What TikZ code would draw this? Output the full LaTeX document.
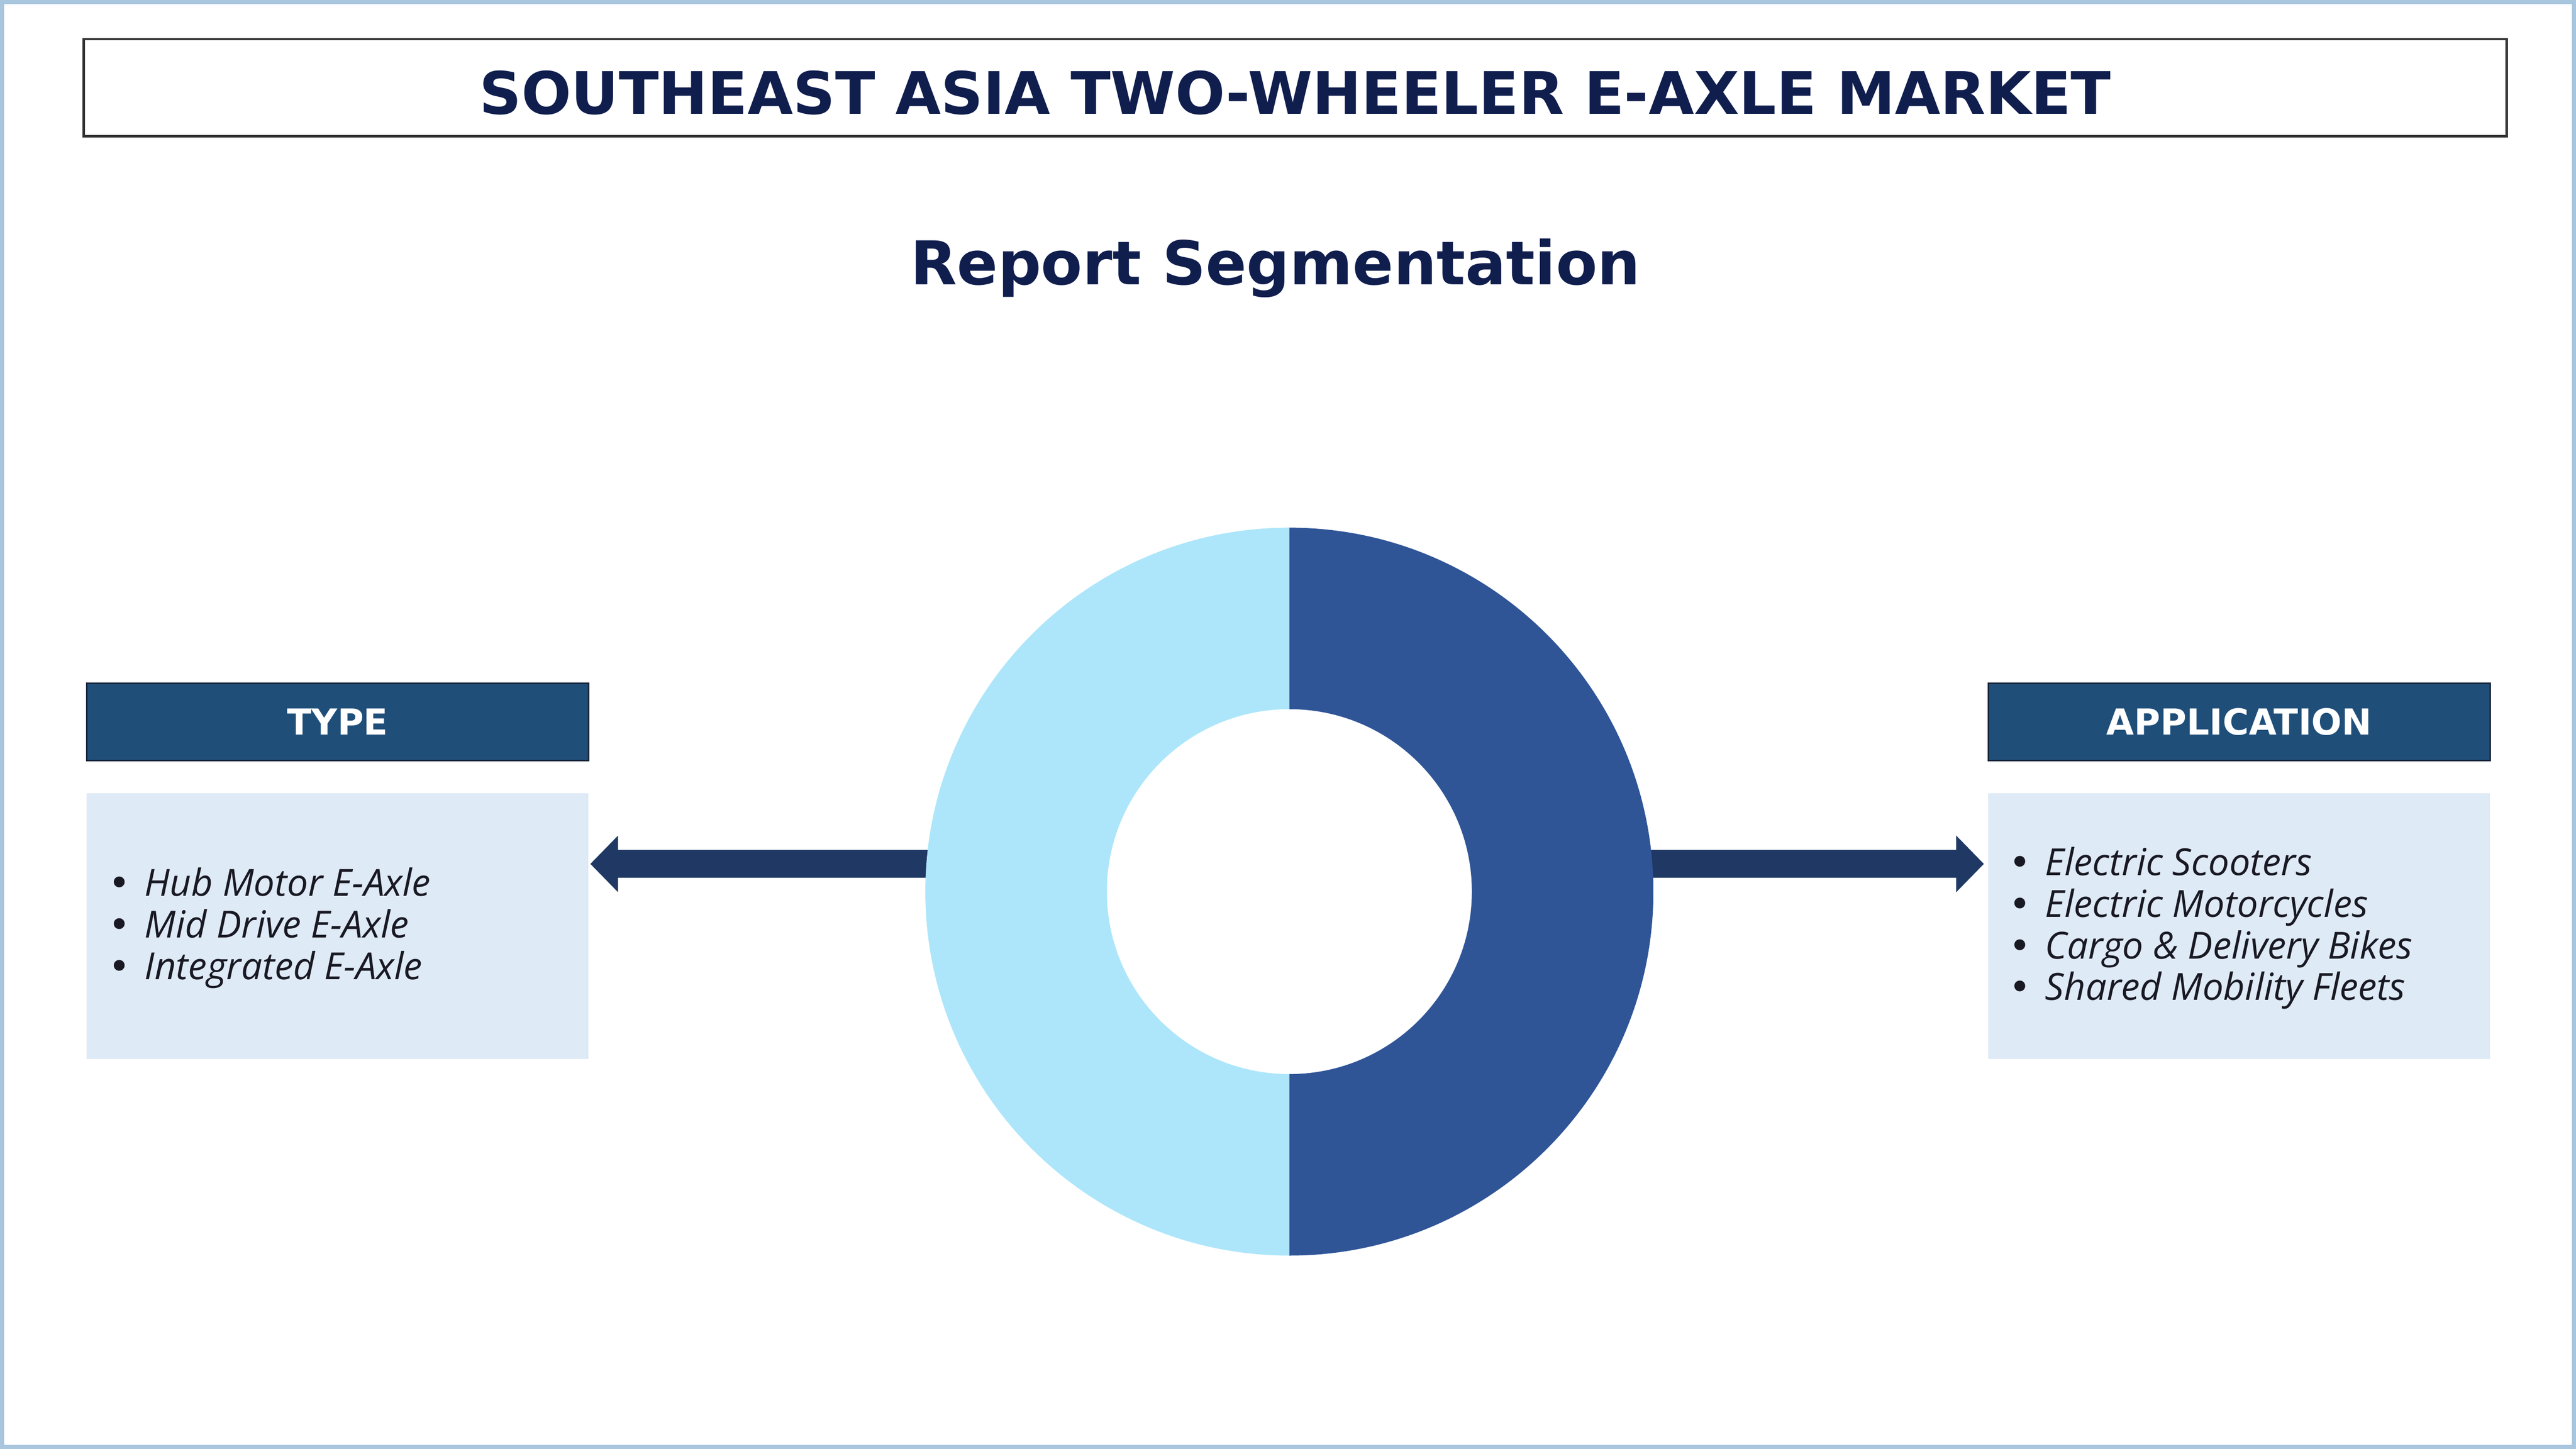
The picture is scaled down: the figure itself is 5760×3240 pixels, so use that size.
\documentclass[tikz,border=0pt]{standalone}
\usepackage{fontspec}
\setmainfont{Open Sans}
\newfontfamily\headfont{DejaVu Sans}
\usetikzlibrary{arrows.meta,positioning}
\definecolor{navy}{RGB}{16,30,78}
\definecolor{hdrblue}{RGB}{31,78,121}
\definecolor{hdredge}{RGB}{28,40,60}
\definecolor{paleblue}{RGB}{222,234,246}
\definecolor{skyblue}{RGB}{173,230,250}
\definecolor{ringblue}{RGB}{47,85,151}
\definecolor{arrowblue}{RGB}{31,56,100}
\definecolor{frameblue}{RGB}{168,198,222}
\definecolor{itemgray}{RGB}{25,25,35}
\tikzset{
headbox/.style={draw=hdredge, line width=0.3pt, fill=hdrblue, text=white,
  minimum width=112.2pt, minimum height=17.3pt, inner sep=0, outer sep=0,
  font=\headfont\bfseries\fontsize{8pt}{9pt}\selectfont},
bodybox/.style={fill=paleblue, minimum width=112.2pt, minimum height=59.5pt,
  inner sep=0, outer sep=0},
item/.style={anchor=base west, inner sep=0, text=itemgray,
  font=\fontsize{8.35pt}{9.3pt}\selectfont},
bigarrow/.style={arrowblue, line width=6.3pt,
  -{Triangle[length=6.2pt,width=12.3pt]}}
}
\newcommand{\itemdot}{{\headfont\textbullet}\hspace{3.2pt}}
\begin{document}
\begin{tikzpicture}[x=0.1pt,y=-0.1pt]
\useasboundingbox (0,0) rectangle (5760,3240);
\fill[white] (0,0) rectangle (5760,3240);
\draw[frameblue, line width=0.9pt] (4.5,4.5) rectangle (5755.5,3235.5);
\node[draw=black!80, line width=0.5pt, minimum width=541.8pt, minimum height=21.7pt,
  inner sep=0, text=navy, text height=11.8pt, text depth=0pt,
  font=\headfont\bfseries\fontsize{13.1pt}{15pt}\selectfont]
  (title) at (2896,196) {SOUTHEAST ASIA TWO-WHEELER E-AXLE MARKET};
\node[anchor=base, text=navy, font=\headfont\bfseries\fontsize{13.5pt}{16pt}\selectfont]
  (subtitle) at (2852,636) {Report Segmentation};
\node[headbox] (typehead) at (755,1614.5) {TYPE};
\node[bodybox, below=7.3pt of typehead] (typebody) {};
\node[headbox] (apphead) at (5007,1614.5) {APPLICATION};
\node[bodybox, below=7.3pt of apphead] (appbody) {};
\foreach \t [count=\i] in {Hub Motor E-Axle, Mid Drive E-Axle, Integrated E-Axle}
  \node[item] (type\i) at (240,{2004+93*(\i-1)}) {\itemdot\textit{\t}};
\foreach \t [count=\i] in {Electric Scooters, Electric Motorcycles,
  Cargo \& Delivery Bikes, Shared Mobility Fleets}
  \node[item] (app\i) at (4490,{1958+93*(\i-1)}) {\itemdot\textit{\t}};
\node[circle, minimum size=162.8pt, inner sep=0, outer sep=0] (ring) at (2883,1994) {};
\coordinate (typetip) at (1320,1932);
\coordinate (apptip) at (4436,1932);
\draw[bigarrow] (ring.center |- typetip) -- (typetip);
\draw[bigarrow] (ring.center |- apptip) -- (apptip);
\fill[skyblue] (ring.north) arc[start angle=90, end angle=270, radius=81.4pt] -- cycle;
\fill[ringblue] (ring.north) arc[start angle=90, end angle=-90, radius=81.4pt] -- cycle;
\node[circle, fill=white, minimum size=81.6pt, inner sep=0] (hole) at (ring) {};
\end{tikzpicture}
\end{document}
